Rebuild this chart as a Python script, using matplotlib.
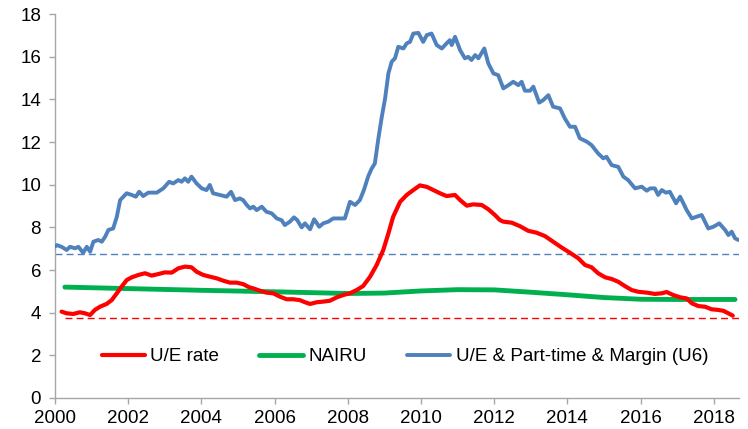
import matplotlib
matplotlib.use("Agg")
import matplotlib.pyplot as plt
import numpy as np

plt.rcParams['font.family'] = ['Liberation Sans', 'DejaVu Sans']

# U6 (U/E & Part-time & Margin)
u6_year = [2000.00, 2000.05, 2000.18, 2000.32, 2000.41, 2000.55, 2000.64, 2000.77, 2000.87, 2000.96,
           2001.05, 2001.18, 2001.28, 2001.37, 2001.46, 2001.59, 2001.69, 2001.78, 2001.96,
           2002.10, 2002.21, 2002.30, 2002.41, 2002.55, 2002.78, 2002.96,
           2003.12, 2003.23, 2003.37, 2003.46, 2003.55, 2003.64, 2003.73, 2003.87,
           2004.01, 2004.14, 2004.23, 2004.32, 2004.51, 2004.69, 2004.81, 2004.92,
           2005.05, 2005.14, 2005.24, 2005.33, 2005.42, 2005.51, 2005.65, 2005.78, 2005.92,
           2006.06, 2006.19, 2006.28, 2006.42, 2006.53, 2006.62, 2006.74, 2006.83, 2006.97,
           2007.08, 2007.22, 2007.33, 2007.47, 2007.60, 2007.79, 2007.92,
           2008.06, 2008.20, 2008.33, 2008.44, 2008.56, 2008.65, 2008.74, 2008.83, 2008.93,
           2009.02, 2009.11, 2009.20, 2009.29, 2009.38, 2009.52, 2009.61, 2009.70, 2009.79, 2009.93,
           2010.06, 2010.16, 2010.29, 2010.43, 2010.57, 2010.70, 2010.79, 2010.84, 2010.93,
           2011.07, 2011.20, 2011.29, 2011.38, 2011.48, 2011.57, 2011.73, 2011.84, 2011.98,
           2012.11, 2012.25, 2012.39, 2012.52, 2012.66, 2012.75, 2012.84, 2012.98,
           2013.07, 2013.23, 2013.34, 2013.48, 2013.61, 2013.80, 2013.93,
           2014.07, 2014.21, 2014.34, 2014.53, 2014.66, 2014.84, 2014.98,
           2015.07, 2015.21, 2015.39, 2015.53, 2015.66, 2015.85,
           2016.03, 2016.17, 2016.26, 2016.39, 2016.48, 2016.58, 2016.69, 2016.80, 2016.97,
           2017.08, 2017.26, 2017.40, 2017.53, 2017.67, 2017.85, 2017.99,
           2018.15, 2018.31, 2018.40, 2018.49, 2018.58, 2018.67]
u6_value = [7.10, 7.17, 7.09, 6.94, 7.09, 7.02, 7.09, 6.81, 7.09, 6.86,
            7.33, 7.41, 7.33, 7.56, 7.88, 7.95, 8.50, 9.28, 9.60,
            9.52, 9.44, 9.67, 9.47, 9.63, 9.63, 9.83,
            10.14, 10.06, 10.22, 10.14, 10.30, 10.14, 10.38, 10.06,
            9.83, 9.75, 9.99, 9.60, 9.52, 9.44, 9.67, 9.28,
            9.36, 9.28, 9.05, 8.89, 8.97, 8.81, 8.97, 8.73, 8.66,
            8.42, 8.34, 8.11, 8.27, 8.47, 8.34, 8.00, 8.19, 7.91,
            8.38, 8.03, 8.19, 8.27, 8.42, 8.42, 8.42,
            9.20, 9.05, 9.28, 9.75, 10.40, 10.75, 11.00, 12.10, 13.19,
            14.05, 15.22, 15.77, 15.93, 16.47, 16.39, 16.63, 16.70, 17.09, 17.12,
            16.70, 17.02, 17.09, 16.55, 16.39, 16.63, 16.78, 16.55, 16.94,
            16.31, 15.93, 16.00, 15.85, 16.08, 15.93, 16.39, 15.69, 15.22,
            15.14, 14.52, 14.67, 14.83, 14.67, 14.83, 14.41, 14.41,
            14.60, 13.85, 13.97, 14.20, 13.66, 13.58, 13.11,
            12.72, 12.72, 12.18, 12.02, 11.86, 11.47, 11.24,
            11.31, 10.92, 10.84, 10.38, 10.22, 9.83,
            9.91, 9.72, 9.83, 9.83, 9.52, 9.75, 9.63, 9.67, 9.13,
            9.44, 8.81, 8.42, 8.50, 8.58, 7.95, 8.03,
            8.19, 7.88, 7.64, 7.80, 7.49, 7.41]

# U/E rate
ue_year = [2000.18, 2000.32, 2000.50, 2000.68, 2000.82, 2000.96,
           2001.09, 2001.23, 2001.41, 2001.55, 2001.69, 2001.82, 2001.96,
           2002.10, 2002.28, 2002.46, 2002.64, 2002.82,
           2003.00, 2003.19, 2003.37, 2003.55, 2003.73, 2003.87,
           2004.05, 2004.23, 2004.42, 2004.60, 2004.78, 2004.96,
           2005.14, 2005.31, 2005.42, 2005.60, 2005.78, 2005.96,
           2006.15, 2006.33, 2006.51, 2006.69, 2006.83, 2006.97,
           2007.15, 2007.33, 2007.51, 2007.70, 2007.88,
           2008.06, 2008.24, 2008.42, 2008.61, 2008.79, 2008.97,
           2009.11, 2009.24, 2009.43, 2009.61, 2009.79, 2009.97,
           2010.16, 2010.34, 2010.52, 2010.70, 2010.93,
           2011.07, 2011.25, 2011.43, 2011.66, 2011.84,
           2012.02, 2012.16, 2012.25, 2012.48, 2012.70, 2012.93,
           2013.16, 2013.39, 2013.61, 2013.84,
           2014.07, 2014.30, 2014.48, 2014.66, 2014.84,
           2015.03, 2015.21, 2015.39, 2015.57, 2015.76, 2015.94,
           2016.17, 2016.39, 2016.58, 2016.71, 2016.89,
           2017.08, 2017.26, 2017.40, 2017.58, 2017.76, 2017.94,
           2018.12, 2018.26, 2018.40, 2018.52]
ue_value = [4.05, 3.97, 3.94, 4.02, 3.97, 3.89,
            4.13, 4.28, 4.41, 4.59, 4.91, 5.22, 5.53,
            5.66, 5.77, 5.85, 5.74, 5.81,
            5.89, 5.88, 6.08, 6.16, 6.13, 5.92,
            5.77, 5.69, 5.61, 5.50, 5.41, 5.41,
            5.34, 5.19, 5.14, 5.03, 4.94, 4.91,
            4.75, 4.63, 4.63, 4.59, 4.49, 4.41,
            4.49, 4.52, 4.56, 4.72, 4.83,
            4.91, 5.06, 5.25, 5.69, 6.24, 6.94,
            7.72, 8.50, 9.20, 9.52, 9.75, 9.97,
            9.90, 9.75, 9.60, 9.47, 9.52,
            9.28, 9.02, 9.08, 9.05, 8.85,
            8.58, 8.34, 8.27, 8.22, 8.06, 7.84,
            7.75, 7.59, 7.33, 7.06,
            6.81, 6.55, 6.24, 6.13, 5.85,
            5.66, 5.58, 5.45, 5.25, 5.06, 4.98,
            4.94, 4.88, 4.91, 4.97, 4.83,
            4.72, 4.67, 4.44, 4.31, 4.28, 4.16,
            4.13, 4.09, 3.97, 3.86]

# NAIRU
nairu_year = [2000.27, 2002.0, 2004.0, 2006.0, 2008.0, 2009.0, 2010.0, 2011.0, 2012.0,
              2013.0, 2014.0, 2015.0, 2016.0, 2017.0, 2018.58]
nairu_value = [5.20, 5.13, 5.05, 4.98, 4.90, 4.92, 5.02, 5.08, 5.07,
               4.96, 4.84, 4.71, 4.63, 4.62, 4.62]

# current-level reference lines
ue_ref = 3.77
u6_ref = 6.77

x_ticks = list(range(2000, 2019, 2))
y_ticks = list(range(0, 19, 2))

RED = '#FF0000'
GREEN = '#00B050'
BLUE = '#4F81BD'

fig = plt.figure(figsize=(7.48, 4.29), dpi=100)
ax = fig.add_axes([0.0735, 0.0723, 0.9145, 0.8947])

ax.hlines(u6_ref, 2000.0, 2018.69, colors=BLUE, linestyles=(0, (5, 3)), linewidth=1.0, zorder=1)
ax.hlines(ue_ref, 2000.27, 2018.69, colors=RED, linestyles=(0, (5, 3)), linewidth=1.0, zorder=1)

l1, = ax.plot(ue_year, ue_value, color=RED, linewidth=3.0, label='U/E rate', zorder=3,
              solid_capstyle='round', solid_joinstyle='round')
l2, = ax.plot(nairu_year, nairu_value, color=GREEN, linewidth=3.5, label='NAIRU', zorder=2,
              solid_capstyle='round')
l3, = ax.plot(u6_year, u6_value, color=BLUE, linewidth=2.8, label='U/E & Part-time & Margin (U6)',
              zorder=3, solid_capstyle='round', solid_joinstyle='round')

ax.set_xlim(2000, 2018.69)
ax.set_ylim(0, 18)
ax.set_xticks(x_ticks)
ax.set_xticklabels([str(t) for t in x_ticks])
ax.set_yticks(y_ticks)
ax.set_yticklabels([str(t) for t in y_ticks])

for s in ['top', 'right']:
    ax.spines[s].set_visible(False)
for s in ['left', 'bottom']:
    ax.spines[s].set_color('#A6A6A6')
    ax.spines[s].set_linewidth(1.0)
ax.tick_params(axis='both', direction='out', length=4, width=1.0, color='#A6A6A6',
               labelsize=13.5, labelcolor='black')
ax.tick_params(axis='y', pad=6)
ax.tick_params(axis='x', pad=5)

leg = ax.legend(handles=[l1, l2, l3], loc='center', bbox_to_anchor=(2009.56, 1.94),
                bbox_transform=ax.transData, ncol=3, frameon=False, fontsize=13.5,
                handlelength=2.3, handletextpad=0.3, columnspacing=2.15, borderaxespad=0)

fig.savefig('out.png', dpi=100)
